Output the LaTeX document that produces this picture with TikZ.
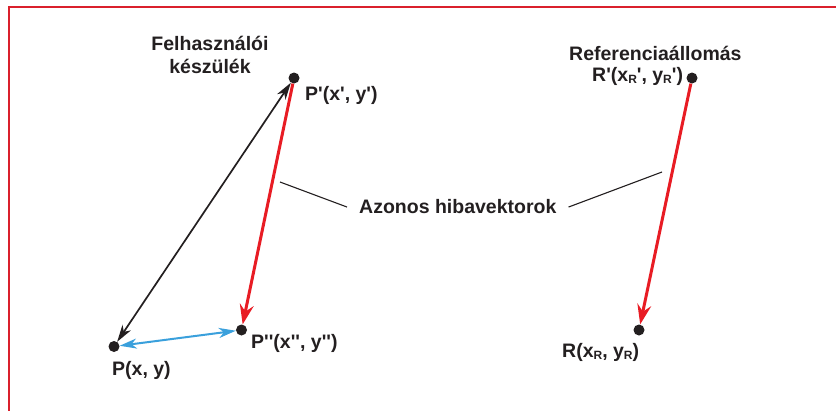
\documentclass[tikz,border=0pt]{standalone}
\usepackage{fontspec}
\setmainfont{Liberation Sans}
\usetikzlibrary{arrows.meta}
\definecolor{vred}{RGB}{232,28,36}
\definecolor{vblue}{RGB}{58,160,220}
\definecolor{framered}{RGB}{218,32,44}
\definecolor{ink}{RGB}{35,31,32}
\newcommand{\qs}{\textquotesingle}
\newcommand{\subR}{\raisebox{-0.25ex}{\fontsize{12}{12}\selectfont R}}
\begin{document}
\begin{tikzpicture}[x=1pt,y=-1pt,
  dot/.style={circle,fill=ink,inner sep=0pt,minimum size=11pt},
  lbl/.style={font=\fontsize{19.5}{23}\selectfont\bfseries,text=ink,inner sep=0pt},
  redtip/.tip={Stealth[length=20pt,width=14pt,inset=7pt]},
  thintip/.tip={Stealth[length=17pt,width=10pt,inset=5pt]},
  errvec/.style={vred,line width=3pt,-redtip},
  linkvec/.style={ink,line width=1.7pt,thintip-thintip},
  shiftvec/.style={vblue,line width=2pt,thintip-thintip},
  leader/.style={ink,line width=1.1pt}]
\useasboundingbox (0,0) rectangle (836,410);
% frame
\draw[framered,line width=2.6pt] (9,414) -- (9,7) -- (840,7);

% points
\node[dot] (Pp)  at (294,78) {};
\node[dot] (Ppp) at (241.5,330) {};
\node[dot] (P)   at (114,346.5) {};
\node[dot] (Rp)  at (692,78) {};
\node[dot] (R)   at (639,330) {};

% vectors
\draw[linkvec] (P) -- (Pp);
\draw[errvec] (Pp) -- (Ppp);
\draw[shiftvec] (P) -- (Ppp);
\draw[errvec] (Rp) -- (R);

% labels
\node[lbl,align=center,anchor=base] (dev) at (210,73) {Felhasználói\\készülék};
\node[lbl,anchor=base west] (lPp) at (305,100) {P\qs(x\qs, y\qs)};
\node[lbl,anchor=base west] (lPpp) at (251,348) {P\qs\qs(x\qs\qs, y\qs\qs)};
\node[lbl,anchor=base west] (lP) at (112,375) {P(x, y)};
\node[lbl,anchor=base west] (ref) at (569,60) {Referenciaállomás};
\node[lbl,anchor=base west] (lRp) at (592,81) {R\qs(x\subR\qs, y\subR\qs)};
\node[lbl,anchor=base west] (lR) at (562,357) {R(x\subR, y\subR)};
\node[lbl,anchor=base west] (same) at (359,213) {Azonos hibavektorok};

% leader lines
\coordinate (la) at (280,182);
\coordinate (lb) at (662,172);
\draw[leader] (la) -- ([xshift=-12pt,yshift=-1pt]same.west);
\draw[leader] ([xshift=12pt,yshift=-1pt]same.east) -- (lb);
\end{tikzpicture}
\end{document}
